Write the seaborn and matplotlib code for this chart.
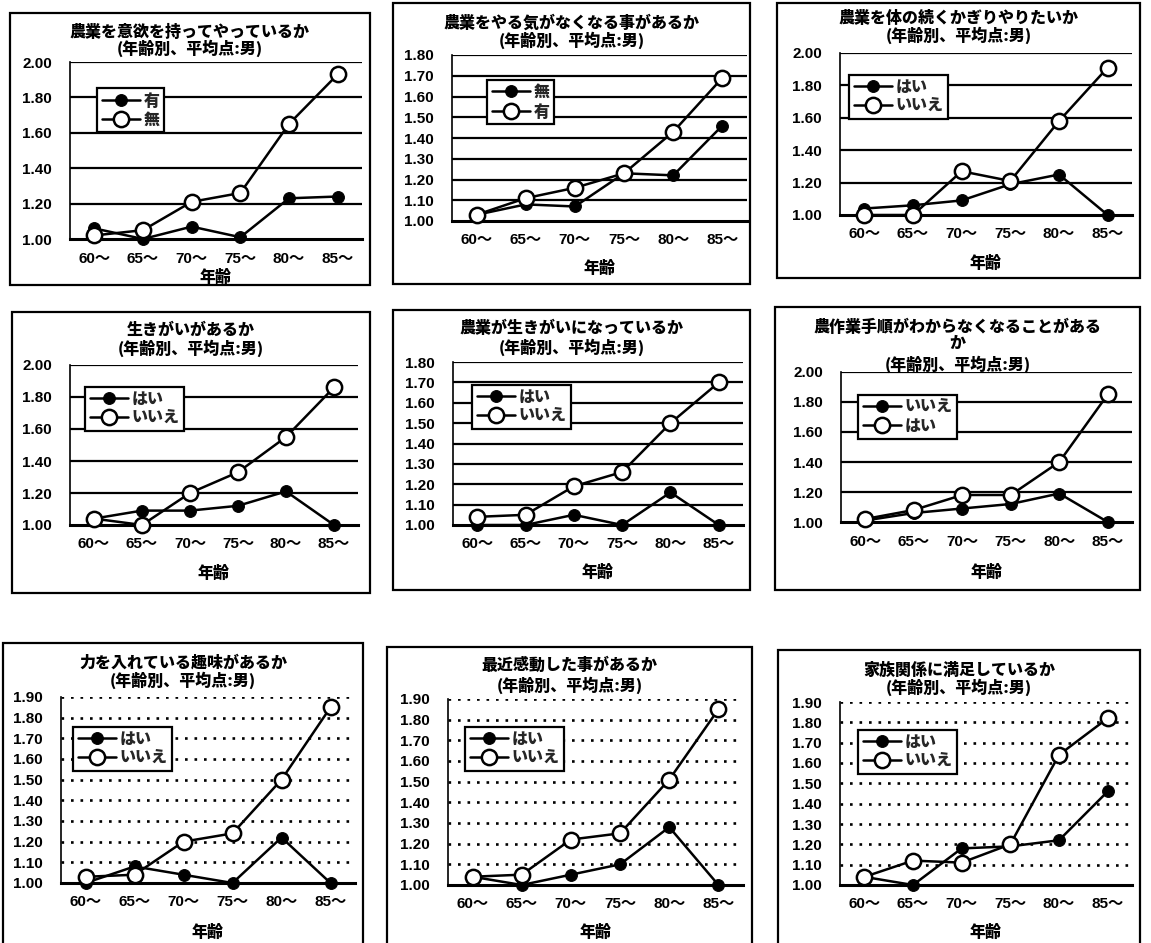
import matplotlib
matplotlib.use("Agg")
import matplotlib.pyplot as plt
from matplotlib.patches import Rectangle
import seaborn as sns
import pandas as pd

# ---- data -------------------------------------------------------------
ages = ["60～", "65～", "70～", "75～", "80～", "85～"]
subtitle = "(年齢別、平均点:男)"

titles = [
    ["農業を意欲を持ってやっているか"],
    ["農業をやる気がなくなる事があるか"],
    ["農業を体の続くかぎりやりたいか"],
    ["生きがいがあるか"],
    ["農業が生きがいになっているか"],
    ["農作業手順がわからなくなることがある", "か"],
    ["力を入れている趣味があるか"],
    ["最近感動した事があるか"],
    ["家族関係に満足しているか"],
]

# legend labels: (filled series, open series)
series_names = [
    ("有", "無"),
    ("無", "有"),
    ("はい", "いいえ"),
    ("はい", "いいえ"),
    ("はい", "いいえ"),
    ("いいえ", "はい"),
    ("はい", "いいえ"),
    ("はい", "いいえ"),
    ("はい", "いいえ"),
]

iyoku_filled = [1.06, 1.00, 1.07, 1.01, 1.23, 1.24]
iyoku_open = [1.02, 1.05, 1.21, 1.26, 1.65, 1.93]
yaruki_filled = [1.03, 1.08, 1.07, 1.23, 1.22, 1.46]
yaruki_open = [1.03, 1.11, 1.16, 1.23, 1.43, 1.69]
tsuzuku_filled = [1.04, 1.06, 1.09, 1.19, 1.25, 1.00]
tsuzuku_open = [1.00, 1.00, 1.27, 1.21, 1.58, 1.91]
ikigai_filled = [1.04, 1.09, 1.09, 1.12, 1.21, 1.00]
ikigai_open = [1.04, 1.00, 1.20, 1.33, 1.55, 1.86]
nogyo_ikigai_filled = [1.00, 1.00, 1.05, 1.00, 1.16, 1.00]
nogyo_ikigai_open = [1.04, 1.05, 1.19, 1.26, 1.50, 1.70]
tejun_filled = [1.01, 1.06, 1.09, 1.12, 1.19, 1.00]
tejun_open = [1.02, 1.08, 1.18, 1.18, 1.40, 1.85]
shumi_filled = [1.00, 1.08, 1.04, 1.00, 1.22, 1.00]
shumi_open = [1.03, 1.04, 1.20, 1.24, 1.50, 1.85]
kando_filled = [1.04, 1.00, 1.05, 1.10, 1.28, 1.00]
kando_open = [1.04, 1.05, 1.22, 1.25, 1.51, 1.85]
kazoku_filled = [1.04, 1.00, 1.18, 1.19, 1.22, 1.46]
kazoku_open = [1.04, 1.12, 1.11, 1.20, 1.64, 1.82]

filled_values = [iyoku_filled, yaruki_filled, tsuzuku_filled, ikigai_filled,
                 nogyo_ikigai_filled, tejun_filled, shumi_filled, kando_filled,
                 kazoku_filled]
open_values = [iyoku_open, yaruki_open, tsuzuku_open, ikigai_open,
               nogyo_ikigai_open, tejun_open, shumi_open, kando_open,
               kazoku_open]

y_max = [2.0, 1.8, 2.0, 2.0, 1.8, 2.0, 1.9, 1.9, 1.9]
y_step = [0.2, 0.1, 0.2, 0.2, 0.1, 0.2, 0.1, 0.1, 0.1]

# ---- layout (pixels, origin top-left) --------------------------------
W, H = 1151, 943
# panel frames: left, top, right, bottom
frames = [
    (10, 13, 370, 285), (393, 3, 750, 284), (777, 3, 1140, 278),
    (12, 312, 370, 593), (393, 310, 750, 590), (775, 307, 1140, 590),
    (3, 643, 363, 960), (387, 647, 752, 960), (778, 650, 1140, 960),
]
# plot areas: left, top, right, bottom
plots = [
    (70, 62, 362, 239), (452, 55, 747, 221), (840, 53, 1132, 215),
    (70, 365, 358, 525), (453, 362, 743, 525), (841, 372, 1132, 522),
    (61, 697, 355, 883), (448, 699, 743, 885), (840, 702, 1132, 885),
]
title_rows = [
    (32, 48), (22, 40), (18, 35),
    (330, 348), (328, 347), (327, 343, 364),
    (663, 680), (665, 685), (670, 687),
]
xlabel_y = [277, 268, 263, 573, 572, 572, 932, 932, 932]
legend_pos = [
    (97, 88), (487, 80), (849, 75),
    (85, 387), (472, 385), (858, 395),
    (73, 727), (465, 727), (858, 730),
]

CJK = ["Noto Sans CJK JP", "DejaVu Sans"]
NUM = ["Liberation Sans", "Noto Sans CJK JP", "DejaVu Sans"]


def fig_rect(l, t, r, b):
    return [l / W, 1 - b / H, (r - l) / W, (b - t) / H]


sns.set_theme(style="white")
plt.rcParams["font.family"] = CJK
plt.rcParams["font.weight"] = "bold"

fig = plt.figure(figsize=(W / 100, H / 100), dpi=100, facecolor="white")

for i in range(9):
    fl, ft, fr, fb = frames[i]
    fig.patches.append(Rectangle((fl / W, 1 - fb / H), (fr - fl) / W, (fb - ft) / H,
                                 transform=fig.transFigure, fill=False,
                                 edgecolor="black", linewidth=1.6))
    cx = (fl + fr) / 2
    lines = titles[i] + [subtitle]
    for text, ty in zip(lines, title_rows[i]):
        fig.text(cx / W, 1 - ty / H, text, ha="center", va="center",
                 fontsize=11.5, fontweight="heavy", family=CJK, color="black")

    ax = fig.add_axes(fig_rect(*plots[i]))
    ax.set_facecolor("white")
    name_f, name_o = series_names[i]
    df_f = pd.DataFrame({"年齢": ages, "平均点": filled_values[i]})
    df_o = pd.DataFrame({"年齢": ages, "平均点": open_values[i]})

    sns.lineplot(data=df_f, x="年齢", y="平均点", sort=False, ax=ax,
                 color="black", linewidth=1.8, marker="o", markersize=8.5,
                 markerfacecolor="black", markeredgecolor="black",
                 label=name_f, zorder=3, clip_on=False)
    sns.lineplot(data=df_o, x="年齢", y="平均点", sort=False, ax=ax,
                 color="black", linewidth=1.8, marker="o", markersize=11,
                 markerfacecolor="white", markeredgecolor="black",
                 markeredgewidth=1.8, label=name_o, zorder=4, clip_on=False)

    ax.set_xlim(-0.5, 5.5)
    ax.set_ylim(1.0, y_max[i])
    n = int(round((y_max[i] - 1.0) / y_step[i]))
    ticks = [1.0 + k * y_step[i] for k in range(n + 1)]
    ax.set_yticks(ticks)
    ax.set_yticklabels([f"{t:.2f}" for t in ticks])

    grid_style = "-" if i < 6 else (0, (1, 2.6))
    for t in ticks[1:]:
        ax.axhline(t, color="black", linewidth=1.6 if i < 6 else 1.9,
                   linestyle=grid_style, zorder=1)

    for side in ("top", "right"):
        ax.spines[side].set_visible(False)
    ax.spines["left"].set_color("black")
    ax.spines["left"].set_linewidth(1.2)
    ax.spines["bottom"].set_color("black")
    ax.spines["bottom"].set_linewidth(2.2)

    ax.tick_params(axis="y", length=0, pad=13, labelcolor="black")
    ax.tick_params(axis="x", length=0, pad=9, labelcolor="black")
    for lab in ax.get_xticklabels() + ax.get_yticklabels():
        lab.set_fontfamily(NUM)
        lab.set_fontweight("bold")
        lab.set_fontsize(11)

    ax.set_ylabel("")
    ax.set_xlabel("年齢", fontsize=11.5, fontweight="heavy", color="black")
    pl, pt, pr, pb = plots[i]
    ax.xaxis.set_label_coords(0.5, -(xlabel_y[i] - pb) / (pb - pt))
    ax.xaxis.label.set_va("center")

    lx, ly = legend_pos[i]
    leg = ax.legend(loc="upper left", bbox_to_anchor=(lx / W, 1 - ly / H),
                    bbox_transform=fig.transFigure, borderaxespad=0,
                    frameon=True, fancybox=False, framealpha=1,
                    edgecolor="black", handlelength=2.4, handletextpad=0.2,
                    borderpad=0.3, labelspacing=0.25,
                    prop={"size": 11.5, "weight": "heavy", "family": CJK})
    leg.get_frame().set_linewidth(1.6)
    leg.set_zorder(5)

fig.savefig("out.png", dpi=100, facecolor="white")
